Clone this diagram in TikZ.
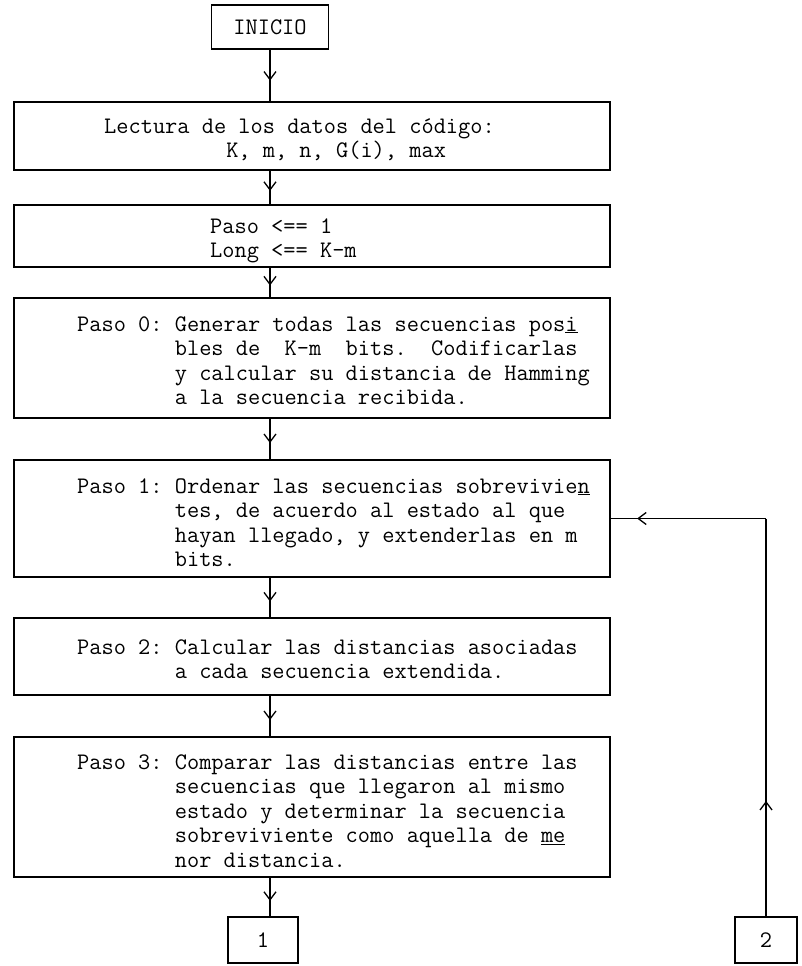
\documentclass[tikz,border=0pt]{standalone}
\usetikzlibrary{arrows.meta,decorations.markings,calc}
\newcommand\tftext{\fontsize{23.7}{24.5}\selectfont\ttfamily}
\tikzset{
  box/.style={draw, line width=1.5pt, rectangle, inner sep=0pt, font=\tftext},
  txt/.style={font=\tftext, inner sep=0pt, anchor=base west},
  flow/.style={line width=1.3pt, postaction={decorate},
    decoration={markings, mark=at position #1 with {\arrow{Straight Barb[length=8pt,width=12pt,line width=1.3pt]}}}},
  flow/.default=0.6
}
\begin{document}
\begin{tikzpicture}[x=1pt,y=-1pt]
\useasboundingbox (0,0) rectangle (802,966);
% boxes
\node[box, minimum width=117pt, minimum height=44pt] (ini) at (270,27) {INICIO};
\node[box, minimum width=596pt, minimum height=68pt] (lect) at (312,136) {};
\node[box, minimum width=596pt, minimum height=62pt] (init) at (312,236) {};
\node[box, minimum width=596pt, minimum height=120pt] (p0) at (312,358) {};
\node[box, minimum width=596pt, minimum height=117pt] (p1) at (312,518.5) {};
\node[box, minimum width=596pt, minimum height=77pt] (p2) at (312,656.5) {};
\node[box, minimum width=596pt, minimum height=140pt] (p3) at (312,807) {};
\node[box, minimum width=70pt, minimum height=46pt] (b1) at (263,940) {1};
\node[box, minimum width=62pt, minimum height=46pt] (b2) at (766,940) {2};
% texts
\node[txt] (lectT) at (104,133) {\begin{tabular}[t]{@{}l@{}}Lectura de los datos del código:\\
\phantom{Lectura de}K, m, n, G(i), max\end{tabular}};
\node[txt] (initT) at (210,233) {\begin{tabular}[t]{@{}l@{}}Paso <== 1\\Long <== K-m\end{tabular}};
\node[txt] (p0T) at (77,331) {\begin{tabular}[t]{@{}l@{}l@{}}Paso 0:\phantom{0}&Generar todas las secuencias pos\underline{i}\\
&bles de\phantom{00}K-m\phantom{00}bits.\phantom{00}Codificarlas\\
&y calcular su distancia de Hamming\\
&a la secuencia recibida.\end{tabular}};
\node[txt] (p1T) at (77,493) {\begin{tabular}[t]{@{}l@{}l@{}}Paso 1:\phantom{0}&Ordenar las secuencias sobrevivie\underline{n}\\
&tes, de acuerdo al estado al que\\
&hayan llegado, y extenderlas en m\\
&bits.\end{tabular}};
\node[txt] (p2T) at (77,654) {\begin{tabular}[t]{@{}l@{}l@{}}Paso 2:\phantom{0}&Calcular las distancias asociadas\\
&a cada secuencia extendida.\end{tabular}};
\node[txt] (p3T) at (77,769) {\begin{tabular}[t]{@{}l@{}l@{}}Paso 3:\phantom{0}&Comparar las distancias entre las\\
&secuencias que llegaron al mismo\\
&estado y determinar la secuencia\\
&sobreviviente como aquella de \underline{me}\\
&nor distancia.\end{tabular}};
% connectors
\draw[flow] (ini.south) -- (ini.south |- lect.north);
\draw[flow] (ini.south |- lect.south) -- (ini.south |- init.north);
\draw[flow] (ini.south |- init.south) -- (ini.south |- p0.north);
\draw[flow] (ini.south |- p0.south) -- (ini.south |- p1.north);
\draw[flow] (ini.south |- p1.south) -- (ini.south |- p2.north);
\draw[flow] (ini.south |- p2.south) -- (ini.south |- p3.north);
\draw[flow] (ini.south |- p3.south) -- (ini.south |- b1.north);
\coordinate (fb) at (b2.north |- p1.east);
\draw[flow=0.29] (b2.north) -- (fb);
\draw[flow=0.83] (fb) -- (p1.east);
\end{tikzpicture}
\end{document}
